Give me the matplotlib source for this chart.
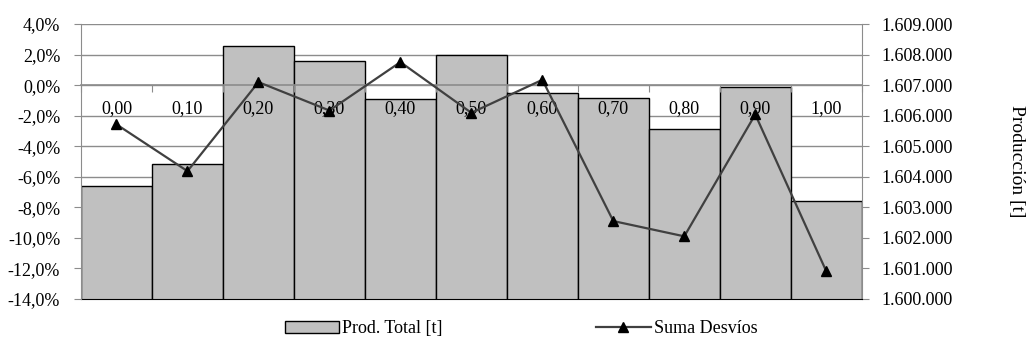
import matplotlib.pyplot as plt
import matplotlib.ticker as mticker
from matplotlib.lines import Line2D
from matplotlib.patches import Patch
import numpy as np

plt.rcParams['font.family'] = ['Liberation Serif', 'DejaVu Serif']
plt.rcParams['font.size'] = 13

# Data
categories = ['0,00', '0,10', '0,20', '0,30', '0,40', '0,50', '0,60', '0,70', '0,80', '0,90', '1,00']
prod_total = [1603690, 1604420, 1608280, 1607780, 1606560, 1607990, 1606730, 1606570, 1605550, 1606930, 1603210]
suma_desvios = [-2.57, -5.63, 0.20, -1.66, 1.51, -1.81, 0.35, -8.90, -9.90, -1.92, -12.18]

grid_grey = '#8c8c8c'
x = np.arange(len(categories))

fig = plt.figure(figsize=(10.32, 3.44), dpi=100)
ax = fig.add_axes([0.0785, 0.131, 0.7565, 0.799])   # bars, production axis (right)
ax2 = ax.twinx()                                   # line, percent axis (left)

# bars
ax.bar(x, prod_total, width=1.0, color='#c0c0c0', edgecolor='black', linewidth=1.0, zorder=2)
ax.set_ylim(1600000, 1609000)
ax.set_yticks(np.arange(1600000, 1609001, 1000))
ax.yaxis.set_major_formatter(mticker.FuncFormatter(lambda v, p: f'{int(v):,}'.replace(',', '.')))
ax.yaxis.tick_right()
ax.yaxis.set_label_position('right')
ax.set_ylabel('Producción [t]', rotation=-90, labelpad=40, fontsize=14, va='bottom')
ax.grid(axis='y', color=grid_grey, linewidth=1.0)
ax.set_axisbelow(True)
ax.set_xlim(-0.5, len(categories) - 0.5)
ax.tick_params(axis='y', direction='out', length=5, color=grid_grey, pad=9)
for s in ['top', 'left']:
    ax.spines[s].set_visible(False)
ax.spines['right'].set_color(grid_grey)
ax.spines['bottom'].set_color('black')

# line
ax2.plot(x, suma_desvios, color='#404040', linewidth=1.6, marker='^', markersize=7,
         markerfacecolor='black', markeredgecolor='black', zorder=3)
ax2.set_ylim(-14, 4)
ax2.set_yticks(np.arange(-14, 4.01, 2))
ax2.yaxis.set_major_formatter(mticker.FuncFormatter(lambda v, p: f'{v:.1f}%'.replace('.', ',')))
ax2.yaxis.tick_left()
ax2.tick_params(axis='y', direction='out', length=5, color=grid_grey, pad=10)
ax2.spines['bottom'].set_position(('data', 0))
ax2.spines['bottom'].set_color(grid_grey)
ax2.spines['bottom'].set_linewidth(1.2)
ax2.spines['left'].set_color(grid_grey)
for s in ['top', 'right']:
    ax2.spines[s].set_visible(False)

# category axis crossing at 0 %
ax2.xaxis.set_visible(True)
ax2.set_xticks(np.arange(-0.5, len(categories), 1.0))
ax2.set_xticklabels([])
ax2.set_xticks(x, minor=True)
ax2.set_xticklabels(categories, minor=True)
ax2.tick_params(axis='x', which='major', direction='out', length=5, color=grid_grey)
ax2.tick_params(axis='x', which='minor', length=0, pad=11)
ax.tick_params(axis='x', which='both', length=0, labelbottom=False)

handles = [Patch(facecolor='#c0c0c0', edgecolor='black', linewidth=1.0),
           Line2D([], [], color='#404040', linewidth=1.6, marker='^', markersize=7,
                  markerfacecolor='black', markeredgecolor='black')]
fig.legend(handles, ['Prod. Total [t]', 'Suma Desvíos'], loc='center', ncol=2,
           bbox_to_anchor=(0.505, 0.044), frameon=False, handlelength=3.0,
           handletextpad=0.2, columnspacing=8.5, fontsize=13)

fig.savefig('out.png', dpi=100)
